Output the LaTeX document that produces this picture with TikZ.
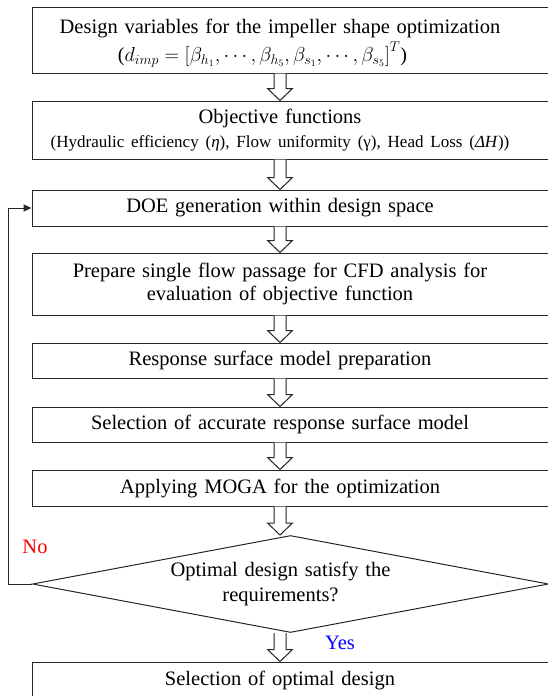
\documentclass[tikz,border=0pt]{standalone}
\usepackage{fontspec}
\setmainfont{Liberation Serif}
\usetikzlibrary{calc,shapes.geometric,arrows.meta}

\tikzset{
  stepbox/.style={draw=black!85, line width=1pt, text width=528pt, inner xsep=0pt,
    inner ysep=2pt, font=\fontsize{20.5}{23.5}\selectfont,
    execute at begin node={\leftskip 0pt plus 1fil\rightskip 32pt plus 1fil
      \parfillskip 0pt\let\\\par}},
  checkbox/.style={diamond, draw=black!85, line width=1pt, aspect=5.3, inner sep=0pt,
    minimum width=516pt, minimum height=97pt, text width=260pt,
    font=\fontsize{20.5}{25}\selectfont,
    execute at begin node={\leftskip 0pt plus 1fil\rightskip 20pt plus 1fil
      \parfillskip 0pt\let\\\par}},
  blockarr/.style={draw=black!85, line width=1pt, fill=white, line join=miter},
  loopline/.style={draw=black!85, line width=1pt, -{Triangle[length=8pt,width=7pt]}},
  answer/.style={inner sep=0pt, font=\fontsize{20.5}{22}\selectfont}
}

% hollow block arrow from the box above to the box below
\newcommand\flowarrow[2]{%
  \draw[blockarr] let \p1=(#1.south -| axis), \p2=(#2.north -| axis) in
    (\x1-6pt,\y1) -- (\x1-6pt,\y2+12pt) -- (\x1-12.5pt,\y2+12pt) -- (\x2,\y2)
    -- (\x1+12.5pt,\y2+12pt) -- (\x1+6pt,\y2+12pt) -- (\x1+6pt,\y1);}

\begin{document}
\begin{tikzpicture}[x=1pt, y=-1pt]
\useasboundingbox (0,0) rectangle (548,696);
\coordinate (axis) at (280,0);

% --- process steps ---
\node[stepbox, minimum height=66pt, text height=21pt, font=\fontsize{20.5}{28}\selectfont] (vars) at (296,40)
  {Design variables for the impeller shape optimization\\
   \hspace*{-35pt}\resizebox{289pt}{!}{($d_{imp}=\left[\beta_{h_1},\cdots,\beta_{h_5},\beta_{s_1},\cdots,\beta_{s_5}\right]^T$)}};
\node[stepbox, minimum height=58pt] (obj) at (296,130)
  {Objective functions\\
   {\fontsize{17}{20}\selectfont (Hydraulic efficiency (\textit{η}), Flow uniformity (γ), Head Loss (\textit{ΔH}))}};
\node[stepbox, minimum height=36pt] (doe) at (296,208) {DOE generation within design space};
\node[stepbox, minimum height=62pt] (cfd) at (296,284)
  {Prepare single flow passage for CFD analysis for\\ evaluation of objective function};
\node[stepbox, minimum height=35pt] (rsm) at (296,360.5) {Response surface model preparation};
\node[stepbox, minimum height=35pt] (pick) at (296,424.5) {Selection of accurate response surface model};
\node[stepbox, minimum height=36pt] (moga) at (296,488) {Applying MOGA for the optimization};

% --- decision ---
\node[checkbox] (check) at (290.5,584) {Optimal design satisfy the\\ requirements?};
\node[stepbox, minimum height=36pt] (final) at (296,680) {Selection of optimal design};

% --- arrows ---
\flowarrow{vars}{obj}
\flowarrow{obj}{doe}
\flowarrow{doe}{cfd}
\flowarrow{cfd}{rsm}
\flowarrow{rsm}{pick}
\flowarrow{pick}{moga}
\flowarrow{moga}{check}
\flowarrow{check}{final}

\draw[loopline] (check.west) -- ++(-24,0) |- (doe.west);
\node[answer, text=red] (no) at (35,547) {No};
\node[answer, text=blue] (yes) at (340,643) {Yes};
\end{tikzpicture}
\end{document}
